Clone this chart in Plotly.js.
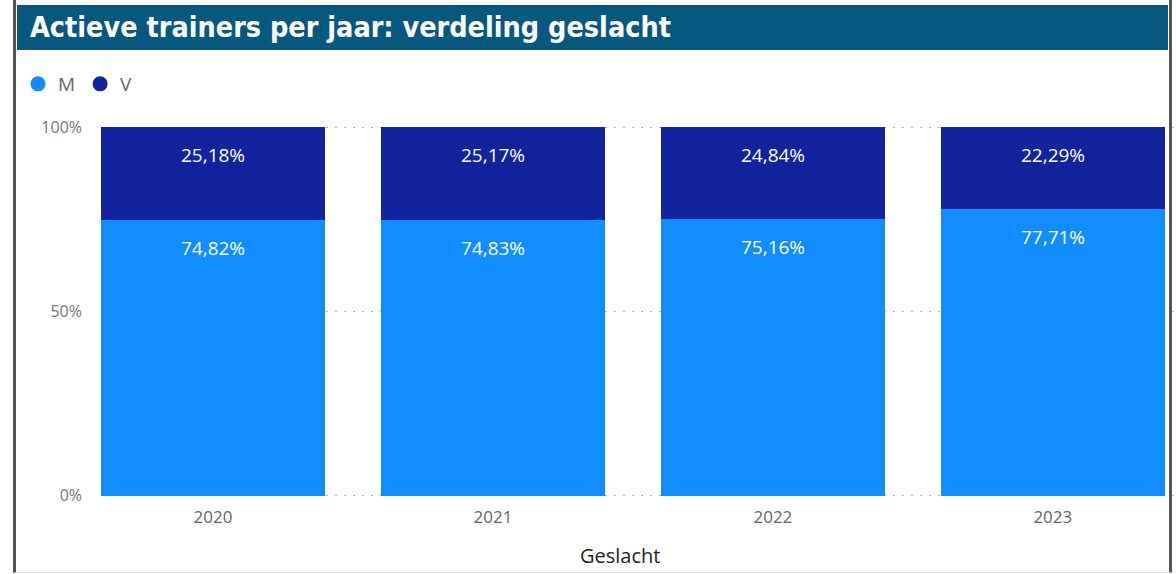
<!DOCTYPE html>
<html>
<head>
<meta charset="utf-8">
<script src="https://cdn.plot.ly/plotly-3.0.1.min.js"></script>
<style>
  body { margin: 0; background: #fff; }
  #wrap { position: relative; width: 1176px; height: 574px; overflow: hidden; }
  #frame { position: absolute; left: 13px; top: 0; width: 1153px; height: 572px;
           border-left: 3px solid #555; border-right: 3px solid #555; border-bottom: 1px solid #ddd; }
  #band { position: absolute; left: 17px; top: 5px; width: 1151px; height: 45px; background: #07587f; }
  #chart { position: absolute; left: 0; top: 0; width: 1176px; height: 574px; }
</style>
</head>
<body>
<div id="wrap">
  <div id="frame"></div>
  <div id="band"></div>
  <div id="chart"></div>
</div>
<script>
// share of active trainers per year, by gender (percent)
var years = ["2020", "2021", "2022", "2023"]
var mShare = [74.82, 74.83, 75.16, 77.71]
var vShare = [25.18, 25.17, 24.84, 22.29]
var yTicks = [0, 50, 100]
var yTickText = ["0%", "50%", "100%"]

var colM = "#118dff"
var colV = "#12239e"
var font = "Open Sans, Noto Sans, sans-serif"

function fmt(v) {
  return v.toFixed(2).replace(".", ",") + "%"
}

var barM = {
  x: years, y: mShare, type: "bar", name: "M", showlegend: false,
  marker: { color: colM }, hoverinfo: "skip"
}
var barV = {
  x: years, y: vShare, type: "bar", name: "V", showlegend: false,
  marker: { color: colV }, hoverinfo: "skip"
}
// legend entries with round markers
var legM = { x: [null], y: [null], type: "scatter", mode: "markers", name: "M",
  marker: { color: colM, size: 15 } }
var legV = { x: [null], y: [null], type: "scatter", mode: "markers", name: "V",
  marker: { color: colV, size: 15 } }

// data labels near the top of each segment (x = category index)
var labels = []
years.forEach(function (yr, i) {
  labels.push({ x: i, y: mShare[i], text: fmt(mShare[i]), yanchor: "top", yshift: -13,
    showarrow: false, font: { color: "#fff", size: 19, family: font } })
  labels.push({ x: i, y: mShare[i] + vShare[i], text: fmt(vShare[i]), yanchor: "top", yshift: -13,
    showarrow: false, font: { color: "#fff", size: 19, family: font } })
})
// x axis title, placed a bit left of the plot centre like the original
labels.push({ xref: "paper", yref: "paper", x: (620 - 101) / 1075, y: -(555 - 497) / 371,
  yanchor: "middle", text: "Geslacht", showarrow: false,
  font: { size: 20, color: "#252423", family: font } })

var layout = {
  width: 1176, height: 574,
  margin: { l: 101, r: 0, t: 126, b: 77 },
  paper_bgcolor: "rgba(0,0,0,0)",
  plot_bgcolor: "rgba(0,0,0,0)",
  barmode: "stack",
  bargap: 0.2,
  font: { family: font, color: "#666" },
  annotations: labels,
  title: {
    text: "Actieve trainers per jaar: verdeling geslacht",
    xref: "container", yref: "container",
    x: 30 / 1176, xanchor: "left",
    y: 1 - 27 / 574, yanchor: "middle",
    font: { family: "DejaVu Sans Condensed", weight: "bold", size: 28.5, color: "#fff" }
  },
  legend: {
    orientation: "h", traceorder: "normal", xref: "container", yref: "container",
    x: 18 / 1176, xanchor: "left", y: 1 - 84 / 574, yanchor: "middle",
    font: { size: 19, color: "#666", family: font },
    itemwidth: 30, bgcolor: "rgba(0,0,0,0)"
  },
  xaxis: {
    type: "category",
    range: [-0.4, 3.44],
    showgrid: false, zeroline: false, showline: false, ticks: "",
    tickfont: { size: 17, color: "#666" },
    ticklabelstandoff: 8
  },
  yaxis: {
    range: [-0.3, 100.3],
    tickvals: yTicks,
    ticktext: yTickText,
    showgrid: true, gridcolor: "#b0b0b0", griddash: "2px,7px", gridwidth: 1,
    zeroline: false, showline: false, ticks: "",
    tickfont: { size: 16, color: "#777" },
    ticklabelstandoff: 18
  },
  showlegend: true
}

Plotly.newPlot("chart", [barM, barV, legM, legV], layout, { displayModeBar: false, staticPlot: true })
</script>
</body>
</html>
